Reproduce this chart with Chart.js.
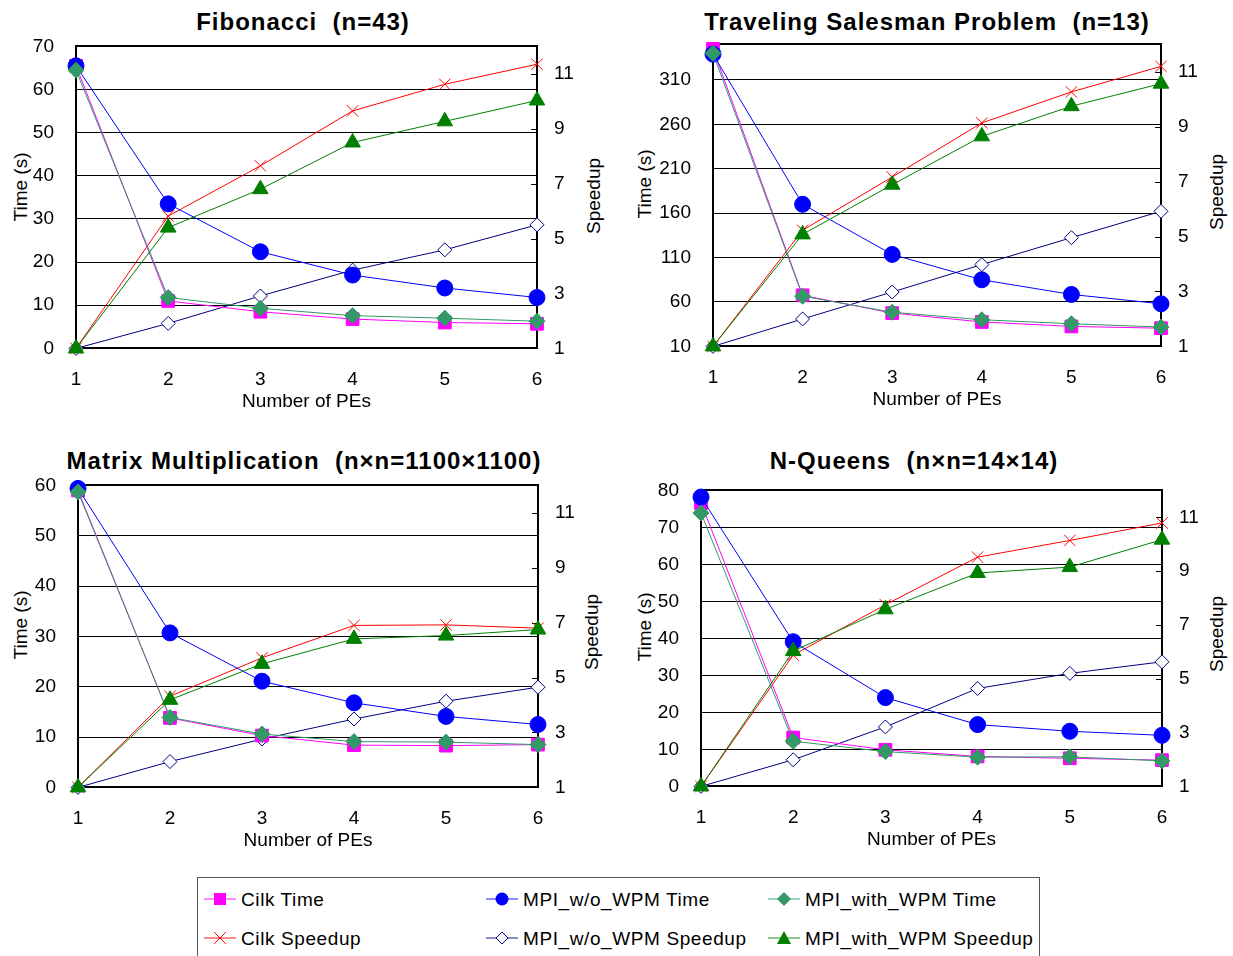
<!DOCTYPE html>
<html>
<head>
<meta charset="utf-8">
<script src="https://cdn.jsdelivr.net/npm/chart.js@4.4.0/dist/chart.umd.min.js"></script>
<style>
  html, body { margin: 0; padding: 0; background: #fff; width: 1233px; height: 956px; overflow: hidden; position: relative; font-family: "Liberation Sans", Arial, sans-serif; color: #000; }
  canvas { position: absolute; }
  .title { position: absolute; font-weight: bold; font-size: 24px; letter-spacing: 1px; white-space: nowrap; line-height: 1; transform: translate(-50%, -50%); }
  .ytitle { position: absolute; font-size: 19px; white-space: nowrap; line-height: 1; transform: translate(-50%, -50%) rotate(-90deg); }
  #legend { position: absolute; left: 197px; top: 877px; width: 843px; height: 100px; border: 1px solid #555; box-sizing: border-box; }
  .item { position: absolute; font-size: 19px; letter-spacing: 0.6px; white-space: nowrap; line-height: 1; display: flex; align-items: center; transform: translateY(-50%); }
  .item svg { margin-right: 4px; }
</style>
</head>
<body>
<div class="title" style="left:303px; top:22px">Fibonacci&nbsp;&nbsp;(n=43)</div>
<div class="title" style="left:927px; top:22px">Traveling Salesman Problem&nbsp;&nbsp;(n=13)</div>
<div class="title" style="left:304px; top:461px">Matrix Multiplication&nbsp;&nbsp;(n×n=1100×1100)</div>
<div class="title" style="left:914px; top:461px">N-Queens&nbsp;&nbsp;(n×n=14×14)</div>

<div class="ytitle" style="left:20px; top:187px">Time (s)</div>
<div class="ytitle" style="left:593px; top:196px">Speedup</div>
<div class="ytitle" style="left:644px; top:184px">Time (s)</div>
<div class="ytitle" style="left:1216px; top:192px">Speedup</div>
<div class="ytitle" style="left:20px; top:625px">Time (s)</div>
<div class="ytitle" style="left:591px; top:632px">Speedup</div>
<div class="ytitle" style="left:644px; top:627px">Time (s)</div>
<div class="ytitle" style="left:1216px; top:634px">Speedup</div>

<canvas id="fib"></canvas>
<canvas id="tsp"></canvas>
<canvas id="mat"></canvas>
<canvas id="nq"></canvas>

<div id="legend"></div>

<script>
const peLabels = [1, 2, 3, 4, 5, 6];
const speedupTicks = [1, 3, 5, 7, 9, 11];
const seriesNames = ['Cilk Time', 'MPI_w/o_WPM Time', 'MPI_with_WPM Time', 'Cilk Speedup', 'MPI_w/o_WPM Speedup', 'MPI_with_WPM Speedup'];

// Fibonacci (n=43)
const fibTimeTicks = [0, 10, 20, 30, 40, 50, 60, 70];
const fibCilkTime = [65.5, 11, 8.5, 6.8, 6.0, 5.7];
const fibMpiTime = [65.5, 33.5, 22.4, 17.0, 14.0, 11.8];
const fibWpmTime = [64.5, 11.8, 9.3, 7.6, 7.0, 6.3];
const fibCilkSpeedup = [1, 5.82, 7.65, 9.65, 10.62, 11.35];
const fibMpiSpeedup = [1, 1.91, 2.91, 3.85, 4.59, 5.5];
const fibWpmSpeedup = [1, 5.4, 6.8, 8.5, 9.27, 10.03];

// Traveling Salesman Problem (n=13)
const tspTimeTicks = [10, 60, 110, 160, 210, 260, 310];
const tspCilkTime = [345, 67.5, 47.5, 37.5, 32.5, 30.5];
const tspMpiTime = [339, 170, 113.5, 85, 68.5, 58];
const tspWpmTime = [340, 66.5, 48.5, 40, 35.5, 31.8];
const tspCilkSpeedup = [1, 5.23, 7.17, 9.14, 10.27, 11.2];
const tspMpiSpeedup = [1, 2.0, 2.98, 3.98, 4.96, 5.92];
const tspWpmSpeedup = [1, 5.08, 6.89, 8.65, 9.75, 10.57];

// Matrix Multiplication (1100x1100)
const matTimeTicks = [0, 10, 20, 30, 40, 50, 60];
const matCilkTime = [59, 13.8, 10.3, 8.4, 8.3, 8.5];
const matMpiTime = [59.4, 30.7, 21.1, 16.8, 14.1, 12.5];
const matWpmTime = [58.7, 13.9, 10.6, 9.1, 9.0, 8.5];
const matCilkSpeedup = [1, 4.32, 5.72, 6.9, 6.92, 6.8];
const matMpiSpeedup = [1, 1.94, 2.76, 3.49, 4.14, 4.65];
const matWpmSpeedup = [1, 4.19, 5.5, 6.41, 6.53, 6.75];

// N-Queens (14x14)
const nqTimeTicks = [0, 10, 20, 30, 40, 50, 60, 70, 80];
const nqCilkTime = [76.6, 13.2, 9.9, 8.1, 7.6, 7.1];
const nqMpiTime = [78.2, 39.1, 24.0, 16.7, 14.9, 13.8];
const nqWpmTime = [73.9, 12.2, 9.4, 7.9, 8.0, 6.9];
const nqCilkSpeedup = [1, 5.88, 7.75, 9.52, 10.14, 10.79];
const nqMpiSpeedup = [1, 1.99, 3.21, 4.64, 5.2, 5.63];
const nqWpmSpeedup = [1, 6.03, 7.58, 8.93, 9.15, 10.17];

const looks = [
  { line: '#FF00FF', fill: '#FF00FF', edge: '#FF00FF', shape: 'rect', r: 9 },
  { line: '#0000FF', fill: '#0000FF', edge: '#0000FF', shape: 'circle', r: 8 },
  { line: '#339966', fill: '#339966', edge: '#339966', shape: 'rectRot', r: 8 },
  { line: '#FF0000', fill: '#FF0000', edge: '#FF0000', shape: 'crossRot', r: 8 },
  { line: '#000080', fill: '#FFFFFF', edge: '#000080', shape: 'rectRot', r: 7 },
  { line: '#008000', fill: '#008000', edge: '#008000', shape: 'triangle', r: 9 }
];

const axisFont = { family: '"Liberation Sans", Arial, sans-serif', size: 19 };

const framePlugin = {
  id: 'frame',
  beforeDatasetsDraw(chart) {
    const { ctx, chartArea: a, scales } = chart;
    ctx.save();
    ctx.strokeStyle = '#000';
    ctx.lineWidth = 1;
    ctx.beginPath();
    scales.y1.ticks.forEach(t => {
      const y = Math.round(scales.y1.getPixelForValue(t.value)) + 0.5;
      ctx.moveTo(a.right - 6, y);
      ctx.lineTo(a.right, y);
    });
    ctx.stroke();
    ctx.lineWidth = 2;
    ctx.strokeRect(Math.round(a.left), Math.round(a.top), Math.round(a.width), Math.round(a.height));
    ctx.restore();
  }
};

function makeChart(id, area, timeMin, timeMax, timeTicks, series) {
  const cv = document.getElementById(id);
  cv.width = area.w + 120;
  cv.height = area.h + 120;

  const sets = series.map((vals, k) => {
    const lk = looks[k];
    return {
      label: seriesNames[k],
      data: vals.map((v, i) => ({ x: peLabels[i], y: v })),
      yAxisID: k < 3 ? 'y' : 'y1',
      borderColor: lk.line,
      backgroundColor: lk.fill,
      borderWidth: 1,
      pointStyle: lk.shape,
      pointRadius: lk.r,
      pointBorderColor: lk.edge,
      pointBackgroundColor: lk.fill,
      pointBorderWidth: 1,
      tension: 0,
      clip: false
    };
  });
  // first dataset ends up drawn on top
  const drawOrder = [5, 2, 1, 0, 3, 4];
  const datasets = drawOrder.map(k => sets[k]);

  const chart = new Chart(cv, {
    type: 'line',
    data: { datasets },
    options: {
      responsive: false,
      maintainAspectRatio: false,
      animation: false,
      layout: { padding: 0 },
      plugins: { legend: { display: false }, tooltip: { enabled: false } },
      scales: {
        x: {
          type: 'linear', min: 1, max: 6,
          afterBuildTicks: s => { s.ticks = peLabels.map(v => ({ value: v })); },
          afterFit: s => { s.height = 65; },
          grid: { display: false, drawTicks: false },
          border: { display: false },
          ticks: { color: '#000', font: axisFont, padding: 20 },
          title: { display: true, text: 'Number of PEs', color: '#000', font: axisFont, padding: 0 }
        },
        y: {
          position: 'left', min: timeMin, max: timeMax,
          afterBuildTicks: s => { s.ticks = timeTicks.map(v => ({ value: v })); },
          afterFit: s => { s.width = 70; },
          grid: { color: '#000', lineWidth: 1, drawTicks: false },
          border: { display: false },
          ticks: { color: '#000', font: axisFont, padding: 22 }
        },
        y1: {
          position: 'right', min: 1, max: 12,
          afterBuildTicks: s => { s.ticks = speedupTicks.map(v => ({ value: v })); },
          afterFit: s => { s.width = 50; },
          grid: { drawOnChartArea: false, drawTicks: false },
          border: { display: false },
          ticks: { color: '#000', font: axisFont, padding: 17 }
        }
      }
    },
    plugins: [framePlugin]
  });

  // size the canvas so the plot area matches the target box, then place it
  const a = chart.chartArea;
  chart.resize(cv.width + area.w - (a.right - a.left), cv.height + area.h - (a.bottom - a.top));
  const b = chart.chartArea;
  cv.style.left = (area.x - b.left) + 'px';
  cv.style.top = (area.y - b.top) + 'px';
}

makeChart('fib', { x: 76, y: 46, w: 461, h: 302 }, 0, 70, fibTimeTicks,
  [fibCilkTime, fibMpiTime, fibWpmTime, fibCilkSpeedup, fibMpiSpeedup, fibWpmSpeedup]);
makeChart('tsp', { x: 713, y: 44, w: 448, h: 302 }, 10, 350, tspTimeTicks,
  [tspCilkTime, tspMpiTime, tspWpmTime, tspCilkSpeedup, tspMpiSpeedup, tspWpmSpeedup]);
makeChart('mat', { x: 78, y: 485, w: 460, h: 302 }, 0, 60, matTimeTicks,
  [matCilkTime, matMpiTime, matWpmTime, matCilkSpeedup, matMpiSpeedup, matWpmSpeedup]);
makeChart('nq', { x: 701, y: 490, w: 461, h: 296 }, 0, 80, nqTimeTicks,
  [nqCilkTime, nqMpiTime, nqWpmTime, nqCilkSpeedup, nqMpiSpeedup, nqWpmSpeedup]);

// legend: sample line + marker, then label
function markerSvg(k) {
  const lk = looks[k];
  const c = 'x1="1" y1="10" x2="33" y2="10" stroke="' + lk.line + '" stroke-opacity="0.6" stroke-width="1.5"';
  let m = '';
  if (k === 0) m = '<rect x="11" y="4" width="12" height="12" fill="' + lk.fill + '"/>';
  if (k === 1) m = '<circle cx="17" cy="10" r="6.5" fill="' + lk.fill + '"/>';
  if (k === 2) m = '<polygon points="17,3 24,10 17,17 10,10" fill="' + lk.fill + '"/>';
  if (k === 3) m = '<path d="M11,4 L23,16 M23,4 L11,16" stroke="' + lk.edge + '" stroke-width="1"/>';
  if (k === 4) m = '<polygon points="17,4 23,10 17,16 11,10" fill="#fff" stroke="' + lk.edge + '" stroke-width="1"/>';
  if (k === 5) m = '<polygon points="17,3 24,16 10,16" fill="' + lk.fill + '"/>';
  return '<svg width="34" height="20"><line ' + c + '/>' + m + '</svg>';
}
const legendCols = [5, 287, 569];
const legendRows = [21, 60];
const legend = document.getElementById('legend');
seriesNames.forEach((name, k) => {
  const div = document.createElement('div');
  div.className = 'item';
  div.style.left = legendCols[k % 3] + 'px';
  div.style.top = legendRows[Math.floor(k / 3)] + 'px';
  div.innerHTML = markerSvg(k) + '<span>' + name + '</span>';
  legend.appendChild(div);
});
</script>
</body>
</html>
